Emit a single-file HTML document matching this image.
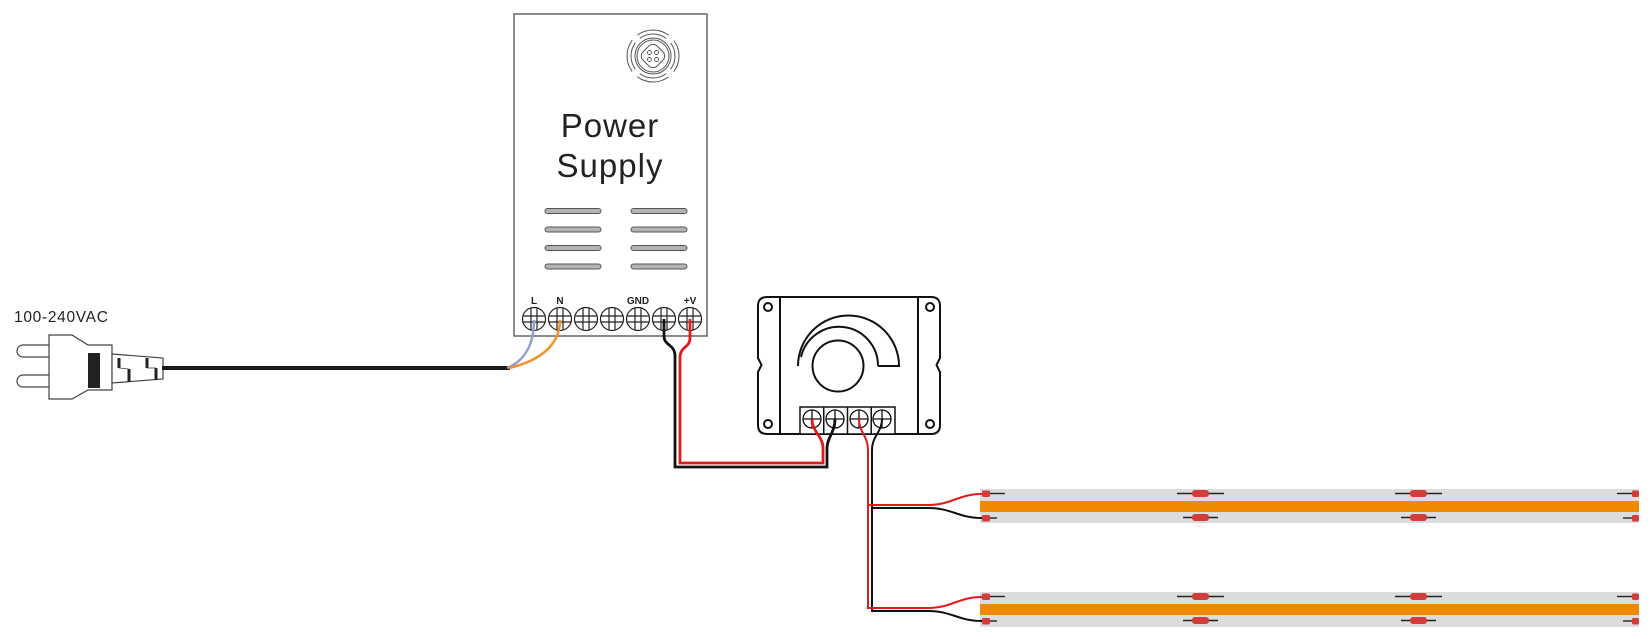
<!DOCTYPE html>
<html><head><meta charset="utf-8"><style>
html,body{margin:0;padding:0;background:#fff;}
svg{display:block;}
text{font-family:"Liberation Sans",sans-serif;}
</style></head><body>
<svg width="1650" height="639" viewBox="0 0 1650 639" xmlns="http://www.w3.org/2000/svg">
<rect width="1650" height="639" fill="#fff"/>

<!-- label -->
<text x="14" y="322" font-size="15.5" fill="#222" letter-spacing="0.7">100-240VAC</text>

<!-- plug -->
<g stroke="#444" stroke-width="1.2" fill="#fff">
  <path d="M49 345 H23 A6 6 0 0 0 23 357 H49"/>
  <path d="M49 375 H23 A6 6 0 0 0 23 387 H49"/>
  <path d="M49 335 L72 335 L88 345 L112 345 L112 390 L88 390 L72 399 L49 399 Z"/>
  <path d="M112 354 L163 358 L163 379 L112 383 Z"/>
</g>
<rect x="88" y="353" width="12" height="35" fill="#222"/>
<g stroke="#222" stroke-width="3">
  <line x1="119" y1="358" x2="119" y2="368"/>
  <line x1="129" y1="369" x2="129" y2="382"/>
  <line x1="147" y1="358" x2="147" y2="368"/>
  <line x1="156" y1="368" x2="156" y2="380"/>
</g>
<g stroke="#444" stroke-width="0.8">
  <line x1="119" y1="368" x2="129" y2="369"/>
  <line x1="147" y1="368" x2="156" y2="368"/>
</g>
<line x1="162" y1="368" x2="510" y2="368" stroke="#1a1a1a" stroke-width="4"/>

<!-- power supply -->
<rect x="514" y="14" width="193" height="322" fill="#fff" stroke="#666" stroke-width="1.5"/>
<!-- fan icon -->
<g transform="translate(653,56)" fill="none">
  <circle r="24" stroke="#555" stroke-width="5" stroke-dasharray="30.7 7" stroke-dashoffset="-3.5" transform="rotate(45)"/>
  <circle r="24" stroke="#fff" stroke-width="3" stroke-dasharray="30.7 7" stroke-dashoffset="-3.5" transform="rotate(45)"/>
  <circle r="18" stroke="#555" stroke-width="1"/>
  <circle r="16" stroke="#555" stroke-width="1"/>
  <rect x="-10" y="-10" width="20" height="20" rx="6" stroke="#555" stroke-width="1" transform="rotate(45)"/>
  <circle cx="-3.5" cy="-3.5" r="2" stroke="#555" stroke-width="0.9"/>
  <circle cx="3.5" cy="-3.5" r="2" stroke="#555" stroke-width="0.9"/>
  <circle cx="-3.5" cy="3.5" r="2" stroke="#555" stroke-width="0.9"/>
  <circle cx="3.5" cy="3.5" r="2" stroke="#555" stroke-width="0.9"/>
</g>
<text x="610" y="137" font-size="33" fill="#222" text-anchor="middle" letter-spacing="1">Power</text>
<text x="610" y="177" font-size="33" fill="#222" text-anchor="middle" letter-spacing="1">Supply</text>
<g fill="#b3b3b3" stroke="#555" stroke-width="1">
  <rect x="545" y="208.5" width="56" height="5" rx="2.5"/>
  <rect x="545" y="227" width="56" height="5" rx="2.5"/>
  <rect x="545" y="245.5" width="56" height="5" rx="2.5"/>
  <rect x="545" y="264" width="56" height="5" rx="2.5"/>
  <rect x="631" y="208.5" width="56" height="5" rx="2.5"/>
  <rect x="631" y="227" width="56" height="5" rx="2.5"/>
  <rect x="631" y="245.5" width="56" height="5" rx="2.5"/>
  <rect x="631" y="264" width="56" height="5" rx="2.5"/>
</g>
<g font-size="10" font-weight="bold" fill="#222" text-anchor="middle">
  <text x="534" y="304">L</text>
  <text x="560" y="304">N</text>
  <text x="638" y="304">GND</text>
  <text x="690" y="304">+V</text>
</g>
<g id="psuterm" stroke="#222" stroke-width="1.2" fill="#fff">
  <g transform="translate(534,319)"><circle r="11.5"/><path d="M-3 -11V11M3 -11V11M-11 -3H11M-11 3H11" fill="none"/></g>
  <g transform="translate(560,319)"><circle r="11.5"/><path d="M-3 -11V11M3 -11V11M-11 -3H11M-11 3H11" fill="none"/></g>
  <g transform="translate(586,319)"><circle r="11.5"/><path d="M-3 -11V11M3 -11V11M-11 -3H11M-11 3H11" fill="none"/></g>
  <g transform="translate(612,319)"><circle r="11.5"/><path d="M-3 -11V11M3 -11V11M-11 -3H11M-11 3H11" fill="none"/></g>
  <g transform="translate(638,319)"><circle r="11.5"/><path d="M-3 -11V11M3 -11V11M-11 -3H11M-11 3H11" fill="none"/></g>
  <g transform="translate(664,319)"><circle r="11.5"/><path d="M-3 -11V11M3 -11V11M-11 -3H11M-11 3H11" fill="none"/></g>
  <g transform="translate(690,319)"><circle r="11.5"/><path d="M-3 -11V11M3 -11V11M-11 -3H11M-11 3H11" fill="none"/></g>
</g>

<!-- AC wires -->
<path d="M507 368 C522 362 534 348 534 320" fill="none" stroke="#8e9fd2" stroke-width="2.5"/>
<path d="M509 368 C535 362 560 348 560 320" fill="none" stroke="#f0922a" stroke-width="2.5"/>

<!-- dimmer -->
<g fill="none" stroke="#111" stroke-width="2">
  <path d="M767 297 H931 Q940 297 940 306 V358 L936.5 365 L940 372 V425 Q940 434 931 434 H767 Q758 434 758 425 V372 L761.5 365 L758 358 V306 Q758 297 767 297 Z" fill="#fff"/>
  <line x1="780" y1="297" x2="780" y2="434"/>
  <line x1="918" y1="297" x2="918" y2="434"/>
  <circle cx="768" cy="307" r="4"/>
  <circle cx="768" cy="424" r="4"/>
  <circle cx="930" cy="307" r="4"/>
  <circle cx="930" cy="424" r="4"/>
  <circle cx="838" cy="366" r="25.5"/>
  <path d="M798 366 A50.5 50.5 0 0 1 899 366 L878 366"/>
  <path d="M878 366 A39 39 0 0 0 801 357"/>
</g>
<g stroke="#111" stroke-width="1.5" fill="#fff">
  <rect x="800" y="407" width="95" height="27"/>
  <line x1="823.75" y1="407" x2="823.75" y2="434"/>
  <line x1="847.5" y1="407" x2="847.5" y2="434"/>
  <line x1="871.25" y1="407" x2="871.25" y2="434"/>
</g>
<g stroke="#111" stroke-width="1.3" fill="#fff">
  <g transform="translate(812,419)"><circle r="9"/><path d="M0 -9V9M-9 0H9" fill="none"/></g>
  <g transform="translate(835,419)"><circle r="9"/><path d="M0 -9V9M-9 0H9" fill="none"/></g>
  <g transform="translate(859,419)"><circle r="9"/><path d="M0 -9V9M-9 0H9" fill="none"/></g>
  <g transform="translate(882,419)"><circle r="9"/><path d="M0 -9V9M-9 0H9" fill="none"/></g>
</g>

<!-- PSU to dimmer wires -->
<path d="M664 319 V336 C664 346 675 344 675 356 V467 H827 V448 C827 438 835 432 835 419" fill="none" stroke="#111" stroke-width="2.8"/>
<path d="M690 319 V338 C690 348 680 346 680 358 V463 H823 V448 C823 436 812 432 812 419" fill="none" stroke="#e01b1b" stroke-width="2.8"/>

<!-- strips -->
<rect x="980" y="489" width="659" height="34" fill="#dcdcdc"/>
<rect x="980" y="501" width="659" height="11" fill="#ef8a00"/>
<rect x="980" y="592" width="659" height="35" fill="#dcdcdc"/>
<rect x="980" y="604" width="659" height="11" fill="#ef8a00"/>

<g id="conn">
  <g stroke="#222" stroke-width="1.4">
    <line x1="989" y1="493.5" x2="1005" y2="493.5"/>
    <line x1="989" y1="518" x2="997" y2="518"/>
    <line x1="1177" y1="493.5" x2="1224" y2="493.5"/>
    <line x1="1183" y1="517.5" x2="1218" y2="517.5"/>
    <line x1="1395" y1="493.5" x2="1442" y2="493.5"/>
    <line x1="1401" y1="517.5" x2="1436" y2="517.5"/>
    <line x1="1617" y1="493.5" x2="1633" y2="493.5"/>
    <line x1="1623" y1="518" x2="1633" y2="518"/>
  </g>
  <g fill="#d43c3c">
    <rect x="982" y="490.5" width="8" height="6.5" rx="1.5"/>
    <rect x="982" y="515" width="8" height="6.5" rx="1.5"/>
    <rect x="1192" y="490" width="17" height="7" rx="3"/>
    <rect x="1192" y="514" width="17" height="7" rx="3"/>
    <rect x="1410" y="490" width="17" height="7" rx="3"/>
    <rect x="1410" y="514" width="17" height="7" rx="3"/>
    <rect x="1632" y="490.5" width="7" height="6.5" rx="1.5"/>
    <rect x="1632" y="515" width="7" height="6.5" rx="1.5"/>
  </g>
</g>
<use href="#conn" transform="translate(0,103)"/>

<!-- dimmer to strip wires -->
<g fill="none" stroke-width="2">
  <path d="M882 419 C882 432 872 436 872 450 V611 H928 C952 611 958 621 982 621" stroke="#111"/>
  <path d="M872 508 H928 C952 508 958 518 982 518" stroke="#111"/>
  <path d="M859 419 C859 432 868 436 868 450 V608 H928 C952 608 958 597 982 597" stroke="#e01b1b"/>
  <path d="M868 505 H928 C952 505 958 494 982 494" stroke="#e01b1b"/>
</g>
</svg>
</body></html>
